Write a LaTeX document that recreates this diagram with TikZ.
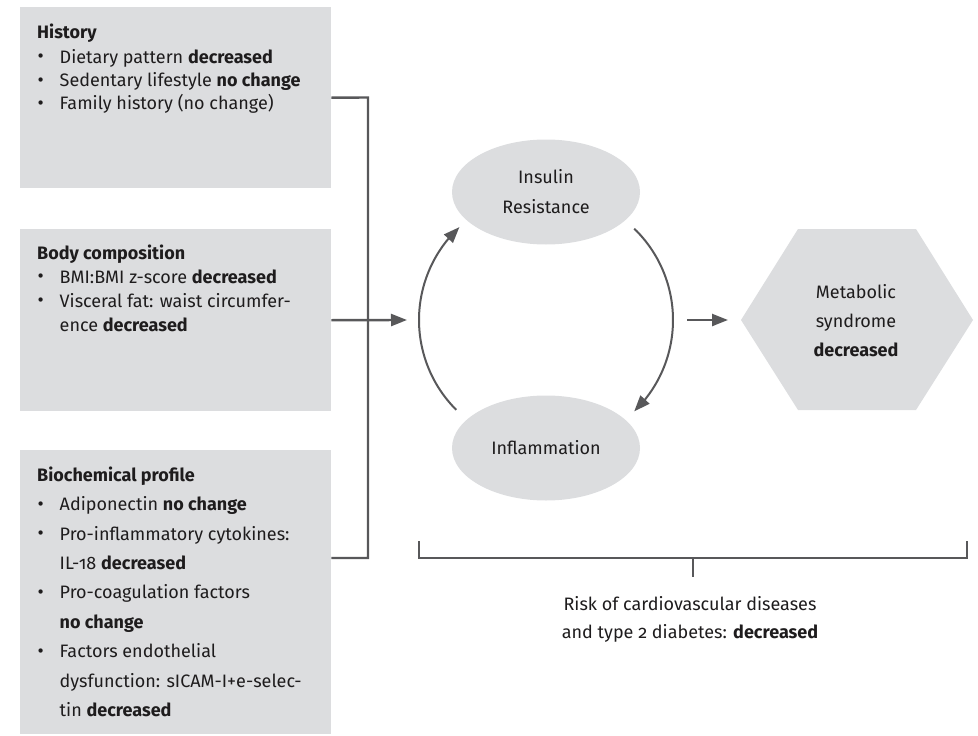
\documentclass[tikz,border=0pt]{standalone}
\usepackage{fontspec}
\setmainfont{Fira Sans}[Numbers=OldStyle]
\usetikzlibrary{arrows.meta,bending,calc,shapes.geometric}

\definecolor{boxgrey}{RGB}{220,221,223}
\definecolor{linegrey}{RGB}{88,88,90}
\definecolor{inkcol}{RGB}{30,28,29}

% bullet and continuation indent for the list lines
\newcommand\bul{\makebox[22.5pt][l]{\hspace{0.5pt}\raisebox{0.3pt}{\fontsize{19}{19}\selectfont •}}}
\newcommand\cont{\hspace*{22.5pt}}
% fixes the height of the first line so the top anchor is predictable
\newcommand\firstline{\rule{0pt}{15pt}}

\tikzset{
  panel/.style={rectangle, fill=boxgrey, draw=none, inner sep=0pt, anchor=north west},
  paneltext/.style={anchor=north west, inner sep=0pt, align=left, text=inkcol,
                    font=\fontsize{18}{23.4}\selectfont},
  oval/.style={ellipse, fill=boxgrey, draw=none, inner sep=0pt, minimum width=188pt,
               minimum height=105pt, align=center, text=inkcol,
               font=\fontsize{18}{30}\selectfont},
  conn/.style={draw=linegrey, line width=2.4pt},
  tip/.style={-{Triangle[length=16pt,width=12pt,flex]}},
  centretext/.style={align=center, inner sep=0pt, text=inkcol,
                     font=\fontsize{18}{28}\selectfont},
}

\begin{document}
\begin{tikzpicture}[x=1pt,y=-1pt]
\useasboundingbox (0,0) rectangle (978,736);

% the three input panels
\node[panel, minimum width=311pt, minimum height=181pt] (hist) at (20,7) {};
\node[panel, minimum width=311pt, minimum height=182pt] (body) at (20,229) {};
\node[panel, minimum width=311pt, minimum height=284pt] (bio) at (20,450) {};

\node[paneltext] (histtxt) at (37,23) {\firstline\textbf{History}\\[1.5pt]
  \bul Dietary pattern \textbf{decreased}\\
  \bul Sedentary lifestyle \textbf{no change}\\
  \bul Family history (no change)};

\node[paneltext, font=\fontsize{18}{24}\selectfont] (bodytxt) at (37,244) {\firstline\textbf{Body composition}\\
  \bul BMI:BMI z-score \textbf{decreased}\\
  \bul Visceral fat: waist circumfer-\\
  \cont ence \textbf{decreased}};

\node[paneltext, font=\fontsize{18}{29.4}\selectfont] (biotxt) at (37,466) {\firstline\textbf{Biochemical profile}\\
  \bul Adiponectin \textbf{no change}\\
  \bul Pro-inflammatory cytokines:\\
  \cont IL-18 \textbf{decreased}\\
  \bul Pro-coagulation factors\\
  \cont \textbf{no change}\\
  \bul Factors endothelial\\
  \cont dysfunction: sICAM-I+e-selec-\\
  \cont tin \textbf{decreased}};

% collecting bracket and the arrow into the cycle
\coordinate (jTop) at (368,97.5);
\coordinate (jBot) at (368,558);
\coordinate (cycIn) at (407,320);
\draw[conn] (hist.east) -- (jTop) -- (jBot) -- (bio.east |- jBot);
\draw[conn,tip] (body.east) -- (cycIn);

% the insulin resistance / inflammation cycle
\coordinate (cyc) at (546,320);
\node[oval] (ir) at (546,192) {Insulin\\Resistance};
\node[oval] (inf) at (546,448) {Inflammation};
\draw[conn,line width=2pt,tip] ($(cyc)+(135:127)$) arc[start angle=135, end angle=227, radius=127];
\draw[conn,line width=2pt,tip] ($(cyc)+(-46:127)$) arc[start angle=-46, end angle=46, radius=127];

% outcome hexagon
\coordinate (hexL) at (741,320);
\fill[boxgrey] (hexL) -- (798,229) -- (916,229) -- (973,320) -- (916,410) -- (798,410) -- cycle;
\node[centretext, font=\fontsize{18}{29}\selectfont] (ms) at (856,321) {Metabolic\\syndrome\\\textbf{decreased}};
\coordinate (cycOut) at (687,320);
\draw[conn,tip] (cycOut) -- ($(hexL)+(-13,0)$);

% overall risk bracket
\coordinate (brL) at (419,541);
\coordinate (brR) at (967,541);
\coordinate (brMid) at (693,558);
\coordinate (tickEnd) at (693,577);
\draw[conn,line width=2pt] (brL) -- (brL |- brMid) -- (brR |- brMid) -- (brR);
\draw[conn,line width=2pt] (brMid) -- (tickEnd);
\node[centretext, anchor=north] (risk) at (690,595) {\firstline Risk of cardiovascular diseases\\and type 2 diabetes: \textbf{decreased}};
\end{tikzpicture}
\end{document}
